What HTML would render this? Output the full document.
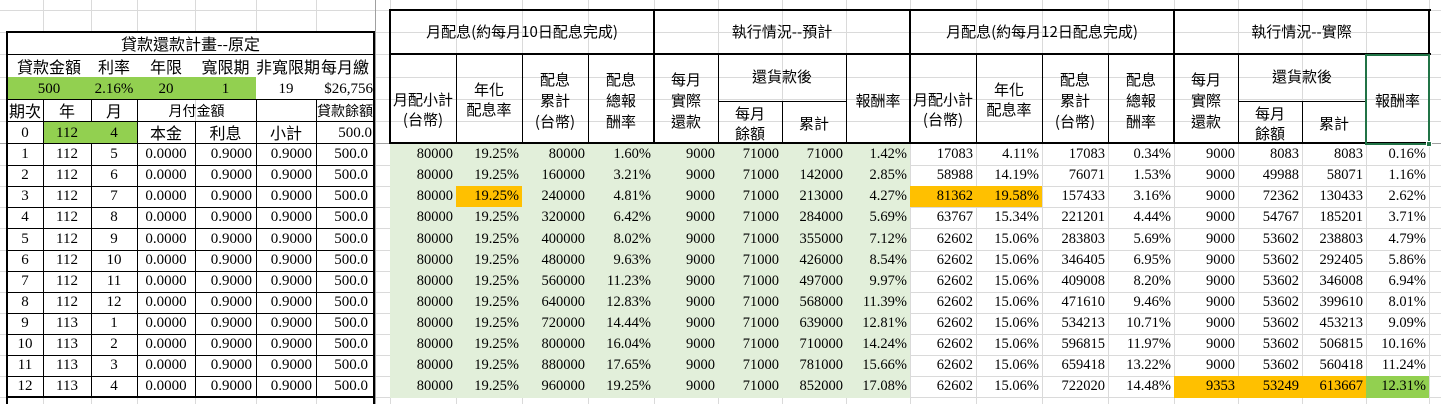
<!DOCTYPE html>
<html><head><meta charset="utf-8">
<style>
*{margin:0;padding:0;box-sizing:border-box}
body{width:1441px;height:404px;background:#fff;position:relative;overflow:hidden;font-family:"Liberation Serif","Noto Sans CJK TC",serif;font-size:14px;color:#000}
.v{position:absolute;width:1px;background:#dadada}
.h{position:absolute;height:1px;background:#dadada}
.b{position:absolute;background:#000}
.f{position:absolute}
.r{position:absolute;left:0;height:21px;display:flex;line-height:21px}
.r div{flex:none;text-align:right;padding-right:4px;white-space:nowrap}
.c{position:absolute;text-align:center;white-space:nowrap;font-family:"Noto Sans CJK TC","Liberation Serif",sans-serif;font-size:15px;line-height:18px}
.n{font-family:"Liberation Serif","Noto Sans CJK TC",serif;font-size:15px}
.L div:nth-child(-n+3){text-align:center;padding-right:0}
</style></head><body>
<!-- page grid -->
<div class="v" style="left:43px;top:0;height:404px"></div>
<div class="v" style="left:91px;top:0;height:404px"></div>
<div class="v" style="left:137px;top:0;height:404px"></div>
<div class="v" style="left:195px;top:0;height:404px"></div>
<div class="v" style="left:256px;top:0;height:404px"></div>
<div class="v" style="left:316px;top:0;height:404px"></div>
<div class="v" style="left:390px;top:0;height:404px"></div>
<div class="v" style="left:456px;top:0;height:404px"></div>
<div class="v" style="left:522px;top:0;height:404px"></div>
<div class="v" style="left:588px;top:0;height:404px"></div>
<div class="v" style="left:654px;top:0;height:404px"></div>
<div class="v" style="left:718px;top:0;height:404px"></div>
<div class="v" style="left:782px;top:0;height:404px"></div>
<div class="v" style="left:846px;top:0;height:404px"></div>
<div class="v" style="left:910px;top:0;height:404px"></div>
<div class="v" style="left:976px;top:0;height:404px"></div>
<div class="v" style="left:1042px;top:0;height:404px"></div>
<div class="v" style="left:1108px;top:0;height:404px"></div>
<div class="v" style="left:1174px;top:0;height:404px"></div>
<div class="v" style="left:1238px;top:0;height:404px"></div>
<div class="v" style="left:1302px;top:0;height:404px"></div>
<div class="v" style="left:1366px;top:0;height:404px"></div>
<div class="v" style="left:1429px;top:0;height:404px"></div>
<div class="h" style="top:10px;left:0;width:1441px"></div>
<div class="h" style="top:32px;left:0;width:1441px"></div>
<div class="h" style="top:54px;left:0;width:1441px"></div>
<div class="h" style="top:77px;left:0;width:1441px"></div>
<div class="h" style="top:99px;left:0;width:1441px"></div>
<div class="h" style="top:121px;left:0;width:1441px"></div>
<div class="h" style="top:165px;left:0;width:1441px"></div>
<div class="h" style="top:186px;left:0;width:1441px"></div>
<div class="h" style="top:207px;left:0;width:1441px"></div>
<div class="h" style="top:228px;left:0;width:1441px"></div>
<div class="h" style="top:250px;left:0;width:1441px"></div>
<div class="h" style="top:271px;left:0;width:1441px"></div>
<div class="h" style="top:292px;left:0;width:1441px"></div>
<div class="h" style="top:313px;left:0;width:1441px"></div>
<div class="h" style="top:334px;left:0;width:1441px"></div>
<div class="h" style="top:355px;left:0;width:1441px"></div>
<div class="h" style="top:376px;left:0;width:1441px"></div>
<div class="h" style="top:397px;left:0;width:1441px"></div>
<!-- freeze lines -->
<div class="f" style="left:0;top:143px;width:1441px;height:1px;background:#a0a0a0"></div>
<div class="f" style="left:375px;top:0;width:1px;height:404px;background:#a0a0a0"></div>

<!-- fills -->
<div class="f" style="left:7px;top:77px;width:249px;height:22px;background:#92d050"></div>
<div class="f" style="left:43px;top:121px;width:94px;height:22px;background:#92d050"></div>
<div class="f" style="left:390px;top:144px;width:520px;height:254px;background:#e2efda"></div>
<div class="f" style="left:456px;top:186px;width:66px;height:21px;background:#ffc000"></div>
<div class="f" style="left:910px;top:186px;width:132px;height:21px;background:#ffc000"></div>
<div class="f" style="left:1174px;top:376px;width:192px;height:22px;background:#ffc000"></div>
<div class="f" style="left:1366px;top:376px;width:63px;height:22px;background:#92d050"></div>
<div class="f" style="left:7px;top:33px;width:367px;height:44px;background:#fff"></div>
<div class="f" style="left:256px;top:77px;width:118px;height:22px;background:#fff"></div>

<!-- left table borders -->
<div class="b" style="left:6px;top:31px;width:369px;height:2px"></div>
<div class="b" style="left:6px;top:31px;width:2px;height:373px"></div>
<div class="b" style="left:373px;top:31px;width:2px;height:373px"></div>
<div class="b" style="left:7px;top:54px;width:367px;height:1px"></div>
<div class="b" style="left:7px;top:99px;width:367px;height:1px"></div>
<div class="b" style="left:7px;top:121px;width:367px;height:1px"></div>
<div class="b" style="left:7px;top:143px;width:367px;height:1px"></div>
<div class="b" style="left:7px;top:165px;width:367px;height:1px"></div>
<div class="b" style="left:7px;top:186px;width:367px;height:1px"></div>
<div class="b" style="left:7px;top:207px;width:367px;height:1px"></div>
<div class="b" style="left:7px;top:228px;width:367px;height:1px"></div>
<div class="b" style="left:7px;top:250px;width:367px;height:1px"></div>
<div class="b" style="left:7px;top:271px;width:367px;height:1px"></div>
<div class="b" style="left:7px;top:292px;width:367px;height:1px"></div>
<div class="b" style="left:7px;top:313px;width:367px;height:1px"></div>
<div class="b" style="left:7px;top:334px;width:367px;height:1px"></div>
<div class="b" style="left:7px;top:355px;width:367px;height:1px"></div>
<div class="b" style="left:7px;top:376px;width:367px;height:1px"></div>
<div class="b" style="left:6px;top:396px;width:369px;height:2px"></div>
<div class="b" style="left:43px;top:99px;width:1px;height:299px"></div>
<div class="b" style="left:91px;top:99px;width:1px;height:22px"></div>
<div class="b" style="left:91px;top:143px;width:1px;height:255px"></div>
<div class="b" style="left:137px;top:99px;width:1px;height:299px"></div>
<div class="b" style="left:195px;top:121px;width:1px;height:277px"></div>
<div class="b" style="left:256px;top:99px;width:1px;height:299px"></div>
<div class="b" style="left:316px;top:99px;width:1px;height:299px"></div>

<!-- right header borders -->
<div class="b" style="left:389px;top:9px;width:1042px;height:2px"></div>
<div class="b" style="left:389px;top:53px;width:1042px;height:2px"></div>
<div class="b" style="left:389px;top:142px;width:1042px;height:2px"></div>
<div class="b" style="left:389px;top:9px;width:2px;height:135px"></div>
<div class="b" style="left:653px;top:9px;width:2px;height:135px"></div>
<div class="b" style="left:909px;top:9px;width:2px;height:135px"></div>
<div class="b" style="left:1173px;top:9px;width:2px;height:135px"></div>
<div class="b" style="left:1428px;top:9px;width:2px;height:135px"></div>
<div class="b" style="left:456px;top:55px;width:1px;height:88px"></div>
<div class="b" style="left:522px;top:55px;width:1px;height:88px"></div>
<div class="b" style="left:588px;top:55px;width:1px;height:88px"></div>
<div class="b" style="left:718px;top:55px;width:1px;height:88px"></div>
<div class="b" style="left:846px;top:55px;width:1px;height:88px"></div>
<div class="b" style="left:976px;top:55px;width:1px;height:88px"></div>
<div class="b" style="left:1042px;top:55px;width:1px;height:88px"></div>
<div class="b" style="left:1108px;top:55px;width:1px;height:88px"></div>
<div class="b" style="left:1238px;top:55px;width:1px;height:88px"></div>
<div class="b" style="left:1366px;top:55px;width:1px;height:88px"></div>
<div class="b" style="left:782px;top:101px;width:1px;height:42px"></div>
<div class="b" style="left:1302px;top:101px;width:1px;height:42px"></div>
<div class="b" style="left:718px;top:101px;width:128px;height:1px"></div>
<div class="b" style="left:1238px;top:101px;width:128px;height:1px"></div>
<!-- selection -->
<div class="f" style="left:1365px;top:54px;width:65px;height:91px;border:2px solid #217346"></div>
<div class="f" style="left:1426px;top:141px;width:6px;height:6px;background:#217346;border:1px solid #fff"></div>

<!-- left header text -->
<div class="c" style="left:7px;top:34px;width:367px;font-size:16px">貸款還款計畫--原定</div>
<div class="c" style="left:7px;top:57px;width:84px;font-size:16px">貸款金額</div>
<div class="c" style="left:91px;top:57px;width:46px;font-size:16px">利率</div>
<div class="c" style="left:137px;top:57px;width:58px;font-size:16px">年限</div>
<div class="c" style="left:195px;top:57px;width:61px;font-size:16px">寬限期</div>
<div class="c" style="left:256px;top:57px;width:60px;font-size:16px">非寬限期</div>
<div class="c" style="left:316px;top:57px;width:58px;font-size:16px">每月繳</div>
<div class="c n" style="left:7px;top:80px;width:84px">500</div>
<div class="c n" style="left:91px;top:80px;width:46px">2.16%</div>
<div class="c n" style="left:137px;top:80px;width:58px">20</div>
<div class="c n" style="left:195px;top:80px;width:61px">1</div>
<div class="c n" style="left:256px;top:80px;width:60px">19</div>
<div class="c n" style="left:316px;top:80px;width:57px;text-align:right">$26,756</div>
<div class="c" style="left:7px;top:101px;width:36px;font-size:16px">期次</div>
<div class="c" style="left:43px;top:101px;width:48px;font-size:16px">年</div>
<div class="c" style="left:91px;top:101px;width:46px;font-size:16px">月</div>
<div class="c" style="left:137px;top:102px;width:119px;font-size:14px">月付金額</div>
<div class="c" style="left:316px;top:102px;width:58px;font-size:14px">貸款餘額</div>
<div class="c n" style="left:7px;top:124px;width:36px">0</div>
<div class="c n" style="left:43px;top:124px;width:48px">112</div>
<div class="c n" style="left:91px;top:124px;width:46px">4</div>
<div class="c" style="left:137px;top:123px;width:58px;font-size:16px">本金</div>
<div class="c" style="left:195px;top:123px;width:61px;font-size:16px">利息</div>
<div class="c" style="left:256px;top:123px;width:60px;font-size:16px">小計</div>
<div class="c n" style="left:316px;top:124px;width:56px;text-align:right">500.0</div>

<!-- right header text -->
<div class="c" style="left:390px;top:23px;width:264px">月配息(約每月10日配息完成)</div>
<div class="c" style="left:654px;top:23px;width:256px">執行情況--預計</div>
<div class="c" style="left:910px;top:23px;width:264px">月配息(約每月12日配息完成)</div>
<div class="c" style="left:1174px;top:23px;width:255px">執行情況--實際</div>

<div class="c" style="left:390px;top:90px;width:66px;line-height:20px">月配小計<br>(台幣)</div>
<div class="c" style="left:456px;top:80px;width:66px;line-height:20px">年化<br>配息率</div>
<div class="c" style="left:522px;top:69px;width:66px;line-height:21px">配息<br>累計<br>(台幣)</div>
<div class="c" style="left:588px;top:69px;width:66px;line-height:21px">配息<br>總報<br>酬率</div>
<div class="c" style="left:654px;top:69px;width:64px;line-height:21px">每月<br>實際<br>還款</div>
<div class="c" style="left:718px;top:68px;width:128px">還貨款後</div>
<div class="c" style="left:718px;top:104px;width:64px;line-height:20px">每月<br>餘額</div>
<div class="c" style="left:782px;top:115px;width:64px">累計</div>
<div class="c" style="left:846px;top:92px;width:64px">報酬率</div>
<div class="c" style="left:910px;top:90px;width:66px;line-height:20px">月配小計<br>(台幣)</div>
<div class="c" style="left:976px;top:80px;width:66px;line-height:20px">年化<br>配息率</div>
<div class="c" style="left:1042px;top:69px;width:66px;line-height:21px">配息<br>累計<br>(台幣)</div>
<div class="c" style="left:1108px;top:69px;width:66px;line-height:21px">配息<br>總報<br>酬率</div>
<div class="c" style="left:1174px;top:69px;width:64px;line-height:21px">每月<br>實際<br>還款</div>
<div class="c" style="left:1238px;top:68px;width:128px">還貨款後</div>
<div class="c" style="left:1238px;top:104px;width:64px;line-height:20px">每月<br>餘額</div>
<div class="c" style="left:1302px;top:115px;width:64px">累計</div>
<div class="c" style="left:1366px;top:92px;width:63px">報酬率</div>

<style>
.L{left:7px;font-size:15px}
.L div:nth-child(1){width:36px}.L div:nth-child(2){width:48px}.L div:nth-child(3){width:46px}
.L div:nth-child(4){width:58px;text-align:center;padding:0}.L div:nth-child(5){width:61px}.L div:nth-child(6){width:60px}.L div:nth-child(7){width:58px;padding-right:6px}
.R{left:390px;font-size:14.5px}
.R div:nth-child(-n+4){width:66px}.R div:nth-child(n+5){width:64px}
.R div:nth-child(n+9){width:66px}.R div:nth-child(n+13){width:64px}.R div:nth-child(16){width:63px}
.R div{padding-right:3px}
</style>
<div class="r L" style="top:144px"><div>1</div><div>112</div><div>5</div><div>0.0000</div><div>0.9000</div><div>0.9000</div><div>500.0</div></div>
<div class="r L" style="top:165px"><div>2</div><div>112</div><div>6</div><div>0.0000</div><div>0.9000</div><div>0.9000</div><div>500.0</div></div>
<div class="r L" style="top:186px"><div>3</div><div>112</div><div>7</div><div>0.0000</div><div>0.9000</div><div>0.9000</div><div>500.0</div></div>
<div class="r L" style="top:207px"><div>4</div><div>112</div><div>8</div><div>0.0000</div><div>0.9000</div><div>0.9000</div><div>500.0</div></div>
<div class="r L" style="top:229px"><div>5</div><div>112</div><div>9</div><div>0.0000</div><div>0.9000</div><div>0.9000</div><div>500.0</div></div>
<div class="r L" style="top:250px"><div>6</div><div>112</div><div>10</div><div>0.0000</div><div>0.9000</div><div>0.9000</div><div>500.0</div></div>
<div class="r L" style="top:271px"><div>7</div><div>112</div><div>11</div><div>0.0000</div><div>0.9000</div><div>0.9000</div><div>500.0</div></div>
<div class="r L" style="top:292px"><div>8</div><div>112</div><div>12</div><div>0.0000</div><div>0.9000</div><div>0.9000</div><div>500.0</div></div>
<div class="r L" style="top:313px"><div>9</div><div>113</div><div>1</div><div>0.0000</div><div>0.9000</div><div>0.9000</div><div>500.0</div></div>
<div class="r L" style="top:334px"><div>10</div><div>113</div><div>2</div><div>0.0000</div><div>0.9000</div><div>0.9000</div><div>500.0</div></div>
<div class="r L" style="top:355px"><div>11</div><div>113</div><div>3</div><div>0.0000</div><div>0.9000</div><div>0.9000</div><div>500.0</div></div>
<div class="r L" style="top:376px"><div>12</div><div>113</div><div>4</div><div>0.0000</div><div>0.9000</div><div>0.9000</div><div>500.0</div></div>

<div class="r R" style="top:144px"><div>80000</div><div>19.25%</div><div>80000</div><div>1.60%</div><div>9000</div><div>71000</div><div>71000</div><div>1.42%</div><div>17083</div><div>4.11%</div><div>17083</div><div>0.34%</div><div>9000</div><div>8083</div><div>8083</div><div>0.16%</div></div>
<div class="r R" style="top:165px"><div>80000</div><div>19.25%</div><div>160000</div><div>3.21%</div><div>9000</div><div>71000</div><div>142000</div><div>2.85%</div><div>58988</div><div>14.19%</div><div>76071</div><div>1.53%</div><div>9000</div><div>49988</div><div>58071</div><div>1.16%</div></div>
<div class="r R" style="top:186px"><div>80000</div><div>19.25%</div><div>240000</div><div>4.81%</div><div>9000</div><div>71000</div><div>213000</div><div>4.27%</div><div>81362</div><div>19.58%</div><div>157433</div><div>3.16%</div><div>9000</div><div>72362</div><div>130433</div><div>2.62%</div></div>
<div class="r R" style="top:207px"><div>80000</div><div>19.25%</div><div>320000</div><div>6.42%</div><div>9000</div><div>71000</div><div>284000</div><div>5.69%</div><div>63767</div><div>15.34%</div><div>221201</div><div>4.44%</div><div>9000</div><div>54767</div><div>185201</div><div>3.71%</div></div>
<div class="r R" style="top:229px"><div>80000</div><div>19.25%</div><div>400000</div><div>8.02%</div><div>9000</div><div>71000</div><div>355000</div><div>7.12%</div><div>62602</div><div>15.06%</div><div>283803</div><div>5.69%</div><div>9000</div><div>53602</div><div>238803</div><div>4.79%</div></div>
<div class="r R" style="top:250px"><div>80000</div><div>19.25%</div><div>480000</div><div>9.63%</div><div>9000</div><div>71000</div><div>426000</div><div>8.54%</div><div>62602</div><div>15.06%</div><div>346405</div><div>6.95%</div><div>9000</div><div>53602</div><div>292405</div><div>5.86%</div></div>
<div class="r R" style="top:271px"><div>80000</div><div>19.25%</div><div>560000</div><div>11.23%</div><div>9000</div><div>71000</div><div>497000</div><div>9.97%</div><div>62602</div><div>15.06%</div><div>409008</div><div>8.20%</div><div>9000</div><div>53602</div><div>346008</div><div>6.94%</div></div>
<div class="r R" style="top:292px"><div>80000</div><div>19.25%</div><div>640000</div><div>12.83%</div><div>9000</div><div>71000</div><div>568000</div><div>11.39%</div><div>62602</div><div>15.06%</div><div>471610</div><div>9.46%</div><div>9000</div><div>53602</div><div>399610</div><div>8.01%</div></div>
<div class="r R" style="top:313px"><div>80000</div><div>19.25%</div><div>720000</div><div>14.44%</div><div>9000</div><div>71000</div><div>639000</div><div>12.81%</div><div>62602</div><div>15.06%</div><div>534213</div><div>10.71%</div><div>9000</div><div>53602</div><div>453213</div><div>9.09%</div></div>
<div class="r R" style="top:334px"><div>80000</div><div>19.25%</div><div>800000</div><div>16.04%</div><div>9000</div><div>71000</div><div>710000</div><div>14.24%</div><div>62602</div><div>15.06%</div><div>596815</div><div>11.97%</div><div>9000</div><div>53602</div><div>506815</div><div>10.16%</div></div>
<div class="r R" style="top:355px"><div>80000</div><div>19.25%</div><div>880000</div><div>17.65%</div><div>9000</div><div>71000</div><div>781000</div><div>15.66%</div><div>62602</div><div>15.06%</div><div>659418</div><div>13.22%</div><div>9000</div><div>53602</div><div>560418</div><div>11.24%</div></div>
<div class="r R" style="top:376px"><div>80000</div><div>19.25%</div><div>960000</div><div>19.25%</div><div>9000</div><div>71000</div><div>852000</div><div>17.08%</div><div>62602</div><div>15.06%</div><div>722020</div><div>14.48%</div><div>9353</div><div>53249</div><div>613667</div><div>12.31%</div></div>
</body></html>
